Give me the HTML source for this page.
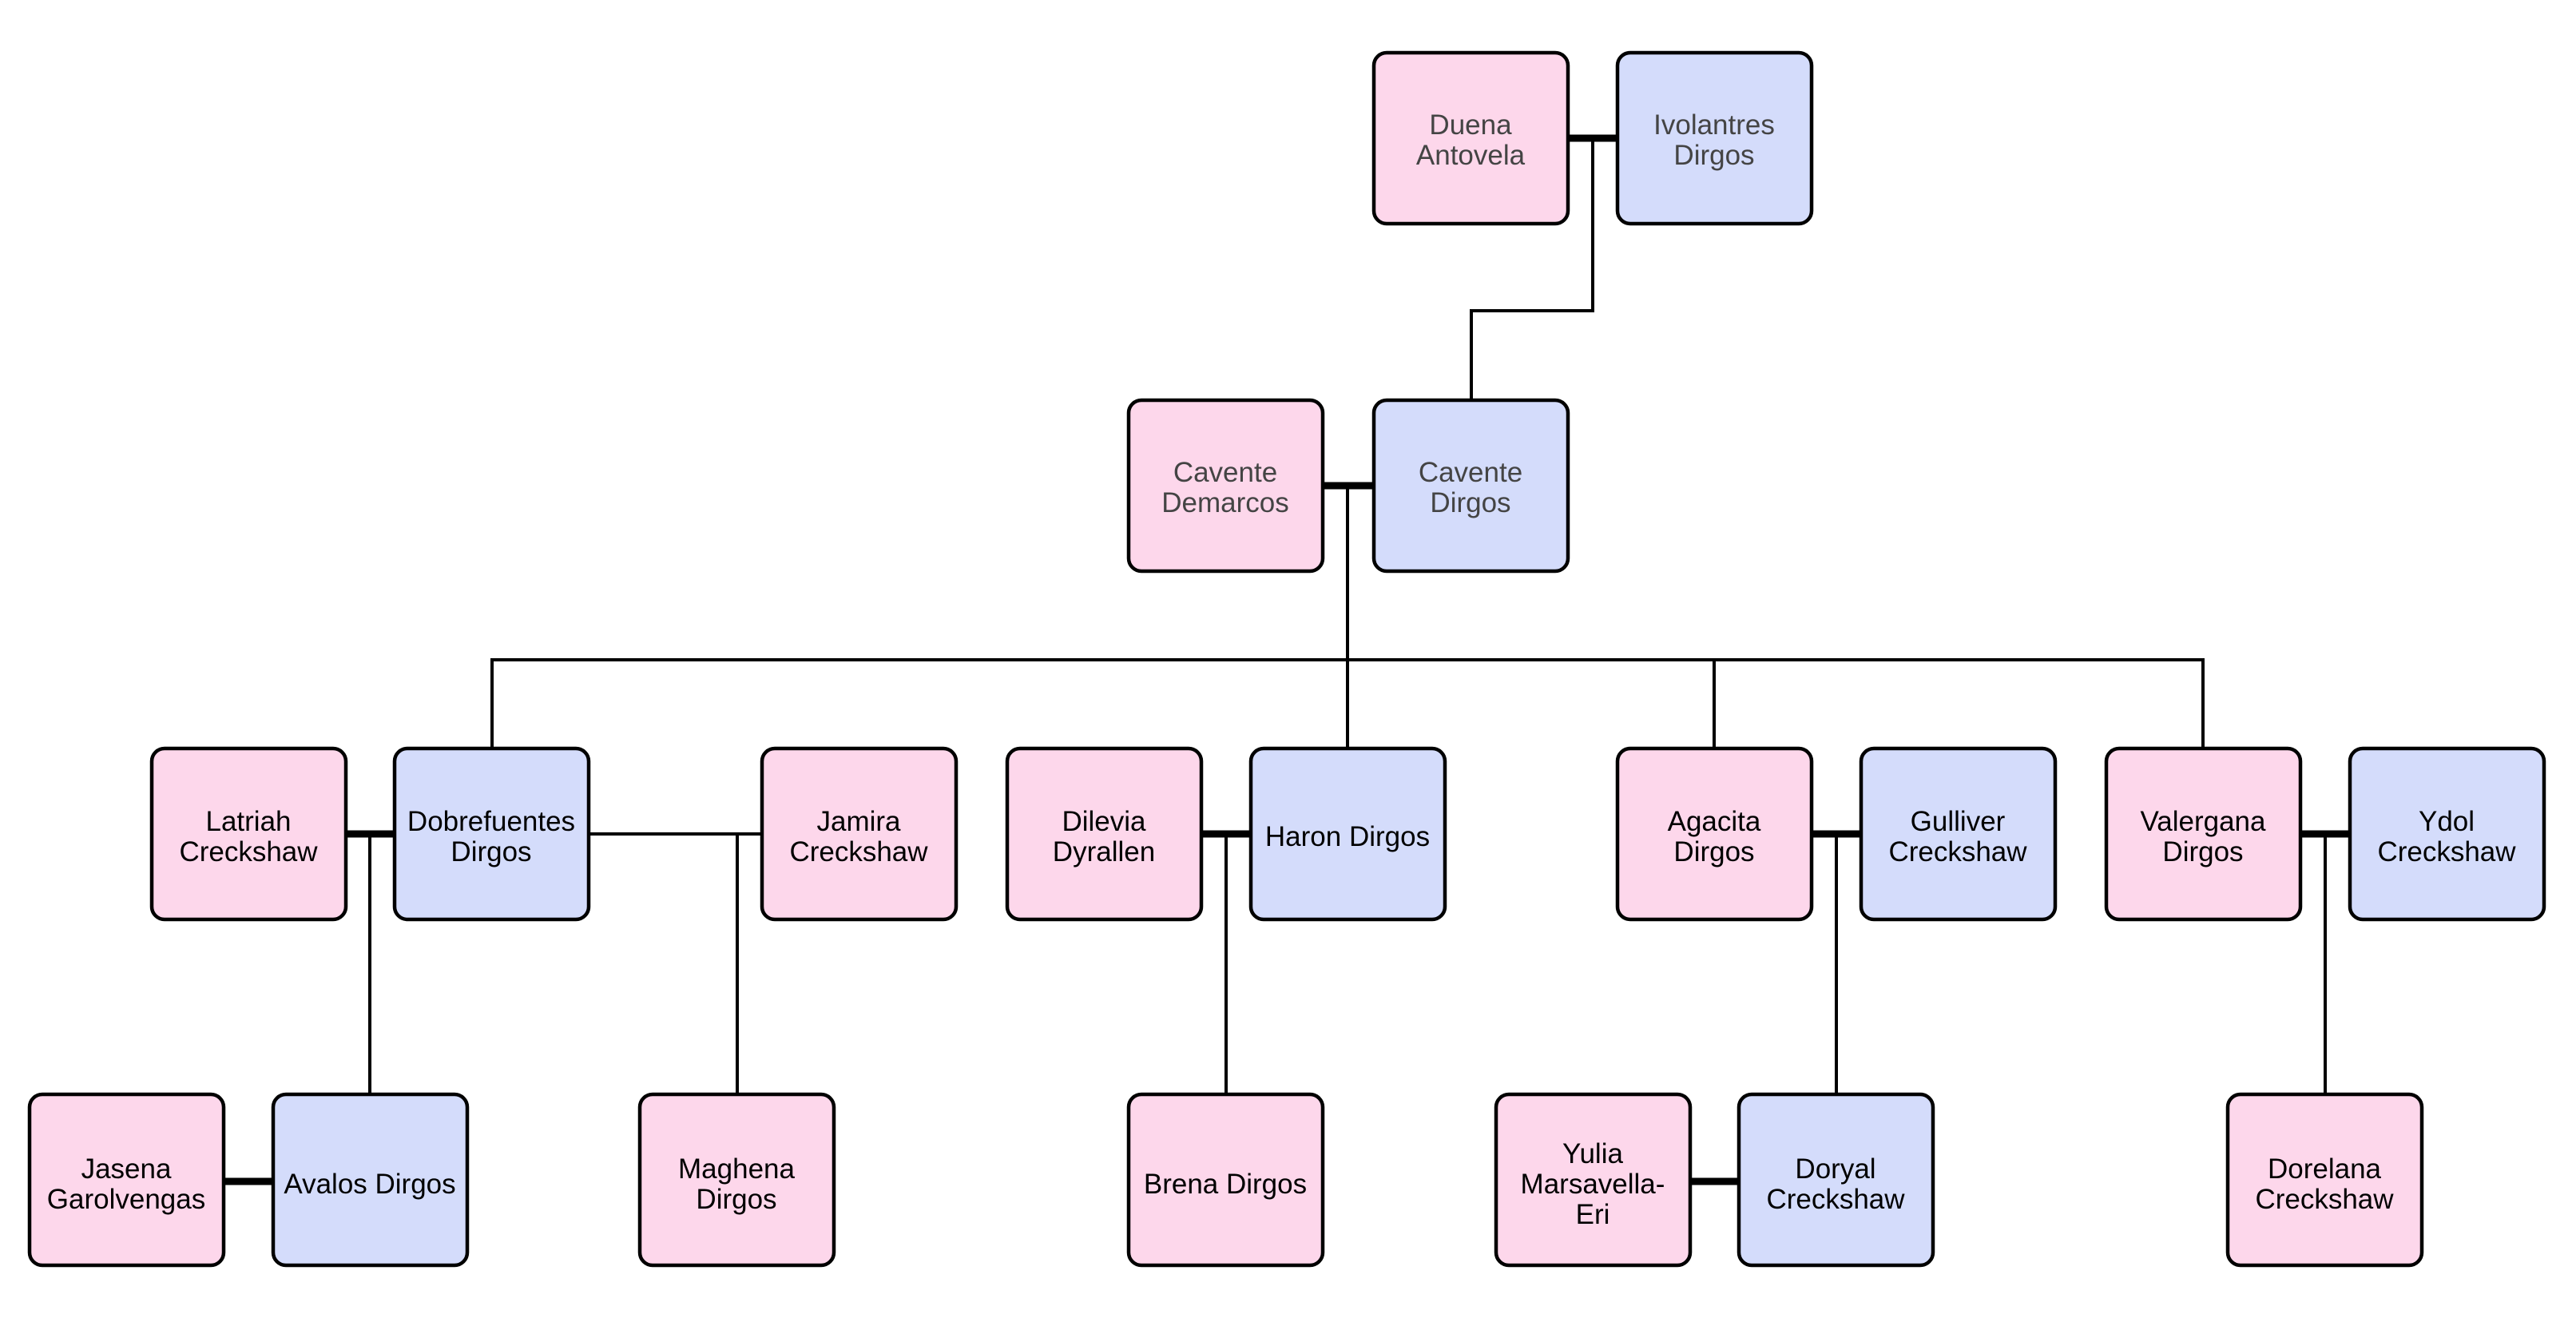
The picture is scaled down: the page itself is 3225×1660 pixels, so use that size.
<!DOCTYPE html>
<html><head><meta charset="utf-8"><style>
html,body{margin:0;padding:0;background:#fff;}
svg{display:block;}
text{font-family:"Liberation Sans",Arial,sans-serif;font-size:35px;text-anchor:middle;}
</style></head><body>
<svg width="3225" height="1660" viewBox="0 0 3225 1660" xmlns="http://www.w3.org/2000/svg">
<g stroke="#000" fill="none" stroke-linecap="square">
<g stroke-width="9">
<line x1="1963" y1="173" x2="2025" y2="173"/>
<line x1="1656" y1="608" x2="1720" y2="608"/>
<line x1="433" y1="1044" x2="494" y2="1044"/>
<line x1="1504" y1="1044" x2="1566" y2="1044"/>
<line x1="2268" y1="1044" x2="2330" y2="1044"/>
<line x1="2880" y1="1044" x2="2942" y2="1044"/>
<line x1="280" y1="1479" x2="342" y2="1479"/>
<line x1="2116" y1="1479" x2="2177" y2="1479"/>
</g>
<g stroke-width="4" stroke-linecap="butt">
<polyline points="1994,173 1994,389 1842,389 1842,501"/>
<line x1="1687" y1="608" x2="1687" y2="937"/>
<polyline points="616,937 616,826 2758,826 2758,937"/>
<line x1="2146" y1="826" x2="2146" y2="937"/>
<line x1="463" y1="1044" x2="463" y2="1370"/>
<line x1="737" y1="1044" x2="954" y2="1044"/>
<line x1="923" y1="1044" x2="923" y2="1370"/>
<line x1="1535" y1="1044" x2="1535" y2="1370"/>
<line x1="2299" y1="1044" x2="2299" y2="1370"/>
<line x1="2911" y1="1044" x2="2911" y2="1370"/>
</g>
</g>
<g stroke="#000" stroke-width="4.5">
<g fill="#fdd7eb">
<rect x="1720" y="66" width="243" height="214" rx="16"/>
<rect x="1413" y="501" width="243" height="214" rx="16"/>
<rect x="190" y="937" width="243" height="214" rx="16"/>
<rect x="954" y="937" width="243" height="214" rx="16"/>
<rect x="1261" y="937" width="243" height="214" rx="16"/>
<rect x="2025" y="937" width="243" height="214" rx="16"/>
<rect x="2637" y="937" width="243" height="214" rx="16"/>
<rect x="37" y="1370" width="243" height="214" rx="16"/>
<rect x="801" y="1370" width="243" height="214" rx="16"/>
<rect x="1413" y="1370" width="243" height="214" rx="16"/>
<rect x="1873" y="1370" width="243" height="214" rx="16"/>
<rect x="2789" y="1370" width="243" height="214" rx="16"/>
</g>
<g fill="#d4dcfb">
<rect x="2025" y="66" width="243" height="214" rx="16"/>
<rect x="1720" y="501" width="243" height="214" rx="16"/>
<rect x="494" y="937" width="243" height="214" rx="16"/>
<rect x="1566" y="937" width="243" height="214" rx="16"/>
<rect x="2330" y="937" width="243" height="214" rx="16"/>
<rect x="2942" y="937" width="243" height="214" rx="16"/>
<rect x="342" y="1370" width="243" height="214" rx="16"/>
<rect x="2177" y="1370" width="243" height="214" rx="16"/>
</g>
</g>
<g fill="#444">
<text x="1841" y="168">Duena</text><text x="1841" y="206">Antovela</text>
<text x="2146" y="168">Ivolantres</text><text x="2146" y="206">Dirgos</text>
<text x="1534" y="603">Cavente</text><text x="1534" y="641">Demarcos</text>
<text x="1841" y="603">Cavente</text><text x="1841" y="641">Dirgos</text>
</g>
<g fill="#000">
<text x="311" y="1040">Latriah</text><text x="311" y="1078">Creckshaw</text>
<text x="615" y="1040">Dobrefuentes</text><text x="615" y="1078">Dirgos</text>
<text x="1075" y="1040">Jamira</text><text x="1075" y="1078">Creckshaw</text>
<text x="1382" y="1040">Dilevia</text><text x="1382" y="1078">Dyrallen</text>
<text x="1687" y="1059">Haron Dirgos</text>
<text x="2146" y="1040">Agacita</text><text x="2146" y="1078">Dirgos</text>
<text x="2451" y="1040">Gulliver</text><text x="2451" y="1078">Creckshaw</text>
<text x="2758" y="1040">Valergana</text><text x="2758" y="1078">Dirgos</text>
<text x="3063" y="1040">Ydol</text><text x="3063" y="1078">Creckshaw</text>
<text x="158" y="1475">Jasena</text><text x="158" y="1513">Garolvengas</text>
<text x="463" y="1494">Avalos Dirgos</text>
<text x="922" y="1475">Maghena</text><text x="922" y="1513">Dirgos</text>
<text x="1534" y="1494">Brena Dirgos</text>
<text x="1994" y="1456">Yulia</text><text x="1994" y="1494">Marsavella-</text><text x="1994" y="1532">Eri</text>
<text x="2298" y="1475">Doryal</text><text x="2298" y="1513">Creckshaw</text>
<text x="2910" y="1475">Dorelana</text><text x="2910" y="1513">Creckshaw</text>
</g>
</svg>
</body></html>
